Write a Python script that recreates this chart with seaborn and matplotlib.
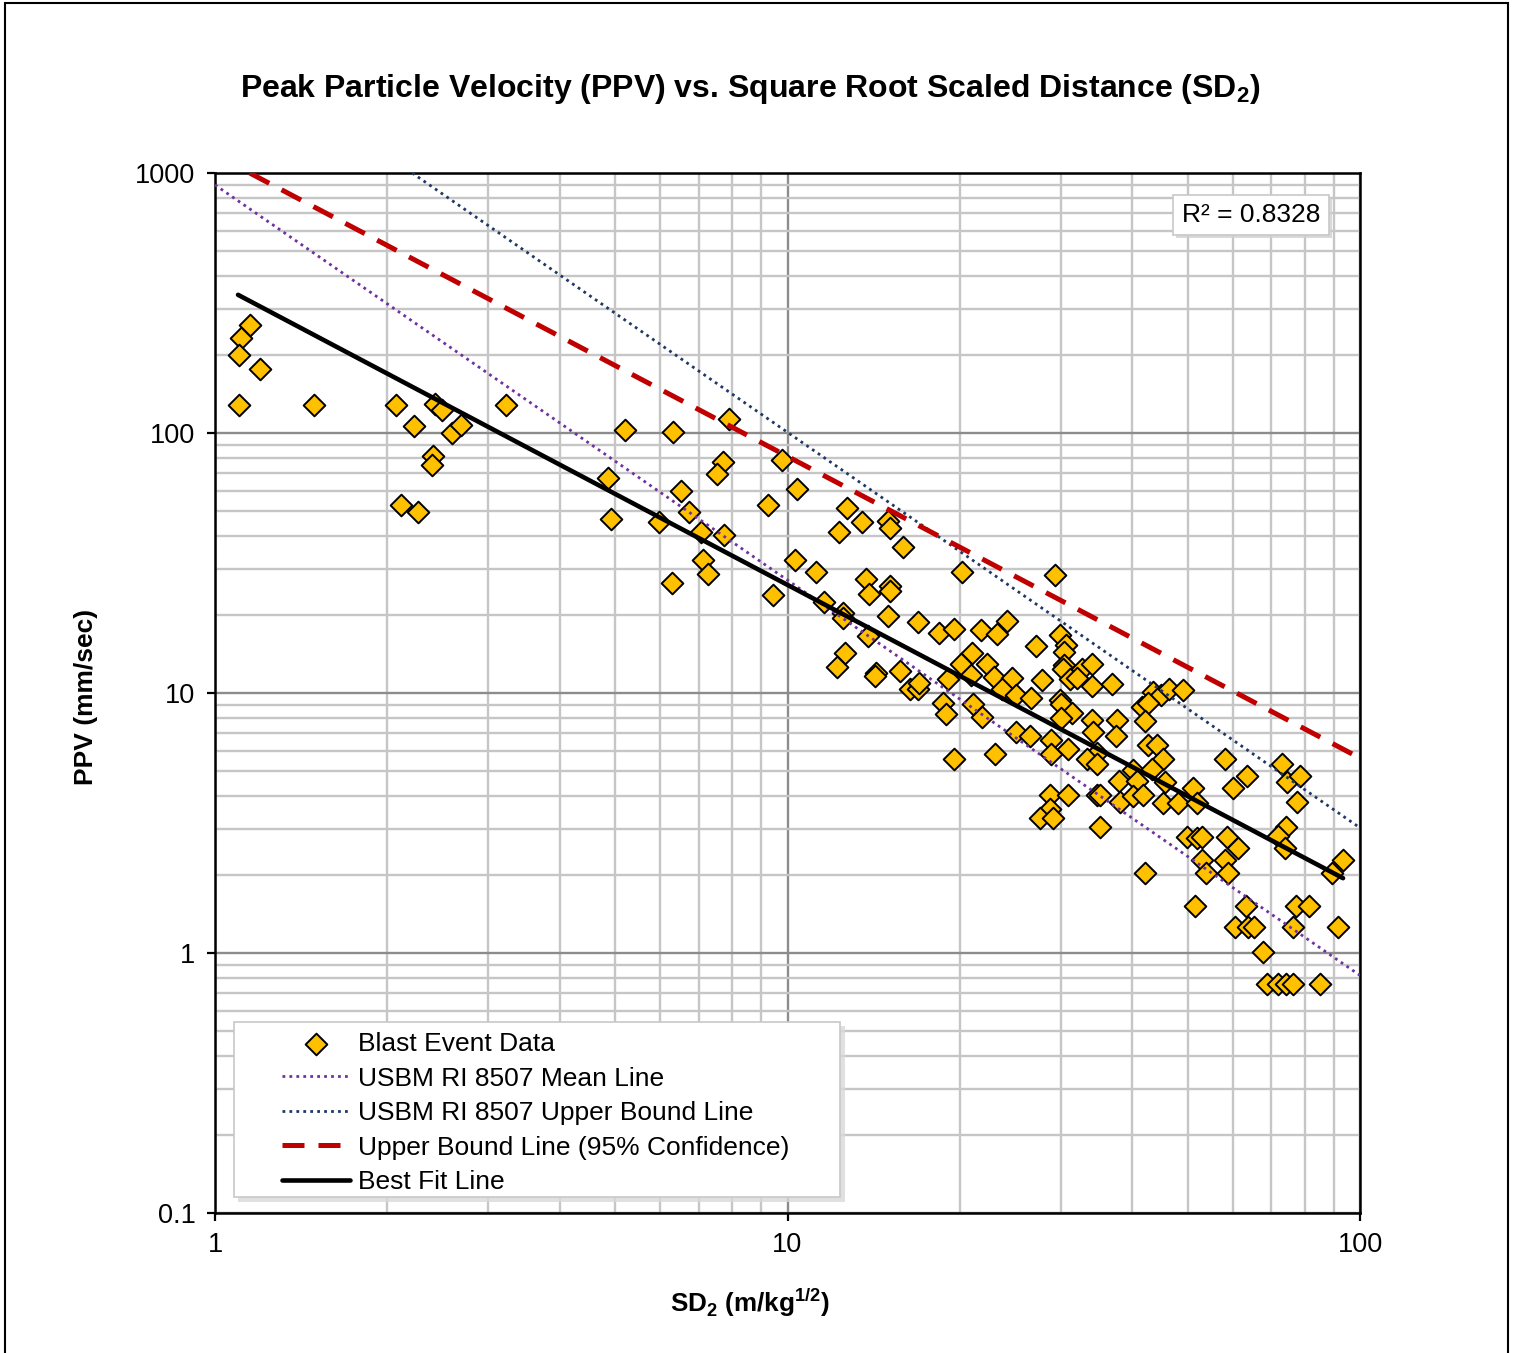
import matplotlib
matplotlib.use("Agg")
import matplotlib.pyplot as plt
import matplotlib.ticker as mticker
import matplotlib.transforms as mtransforms
from matplotlib.patches import Rectangle
import seaborn as sns
import pandas as pd

# ---------------- data ----------------
sd = [1.15, 1.11, 1.10, 1.20, 1.10, 1.49, 2.07, 2.42, 2.49, 3.22, 2.23, 2.59, 2.69, 2.40, 2.39, 2.11, 2.26,
      5.21, 6.30, 7.89, 7.73, 7.52, 9.77, 4.85, 4.92, 6.52, 6.73, 5.96, 7.05, 7.76, 9.24, 10.4, 7.13, 7.27,
      6.28, 9.45, 10.3, 11.2, 11.6, 12.3,
      12.7, 13.5, 15.0, 15.1, 15.9, 13.7, 13.9, 15.1, 15.1, 12.5, 12.5, 15.0, 13.8, 12.6, 12.2, 14.3, 14.2,
      20.2, 29.3, 16.9, 18.4, 19.5, 21.8, 23.2, 24.2, 29.9, 30.7, 27.2, 30.4, 21.0, 20.1, 22.3, 20.9, 19.1,
      22.9, 24.7, 27.8, 30.4, 30.3, 31.2, 32.7, 32.0, 34.0, 34.0, 36.9, 15.7, 16.4, 16.9, 17.0, 23.7, 25.1,
      26.6, 29.9, 30.1, 31.4, 30.1, 18.7, 18.9, 21.1, 21.9, 34.0, 37.7, 34.1, 37.5, 25.1, 26.5, 28.9, 28.9,
      30.9, 34.7, 33.3, 34.7, 19.5, 23.0, 37.9, 40.2, 40.8, 28.7, 30.9, 34.7, 35.2, 38.1, 40.1, 28.7, 27.6,
      29.1, 35.2,
      43.5, 45.0, 46.4, 49.1, 41.6, 42.7, 42.2, 42.6, 44.2, 45.2, 43.3, 45.6, 41.8, 45.2, 48.0, 51.0, 51.9,
      58.1, 63.4, 59.9, 73.0, 74.5, 78.6, 77.5, 49.9, 51.9, 53.0, 58.5, 61.1, 74.2, 72.0, 74.0, 52.9, 53.8,
      58.1, 58.9, 42.2, 89.4, 93.5, 51.4, 63.1, 77.3, 81.5, 60.5, 63.8, 65.3, 76.3, 91.7, 67.8, 68.7, 71.8,
      74.2, 76.5, 85.1]
ppv = [260, 232, 200, 176, 128, 128, 128, 129, 123, 128, 106, 100, 107, 81.5, 75, 52.7, 49.5,
       103, 101, 113, 77.4, 69.6, 78.8, 66.9, 46.6, 60, 49.5, 45.5, 41.6, 40.6, 52.7, 60.7, 32.5, 28.6,
       26.6, 23.8, 32.5, 29.3, 22.4, 41.6,
       51.6, 45.5, 46.0, 43.2, 36.5, 27.4, 24.0, 25.8, 24.7, 20.3, 19.4, 19.7, 16.5, 14.2, 12.6, 11.9, 11.6,
       29.2, 28.4, 18.8, 17.0, 17.7, 17.5, 16.9, 19.0, 16.7, 15.3, 15.2, 14.4, 14.2, 12.9, 12.9, 11.7, 11.3,
       11.5, 11.4, 11.2, 12.8, 12.4, 11.3, 12.4, 11.4, 12.9, 10.6, 10.8, 12.1, 10.4, 10.4, 10.9, 10.4, 9.82,
       9.59, 9.40, 9.07, 8.36, 8.04, 9.13, 8.28, 9.07, 8.11, 7.88, 7.88, 7.10, 6.83, 7.10, 6.83, 6.60, 5.83,
       6.07, 5.86, 5.57, 5.32, 5.56, 5.83, 4.59, 5.06, 4.60, 4.05, 4.05, 4.05, 4.05, 3.80, 4.02, 3.57, 3.30,
       3.30, 3.06,
       10.1, 9.82, 10.4, 10.3, 8.86, 9.13, 7.80, 6.31, 6.31, 5.56, 5.09, 4.56, 4.05, 3.79, 3.79, 4.32, 3.77,
       5.56, 4.81, 4.30, 5.32, 4.56, 4.81, 3.80, 2.80, 2.78, 2.79, 2.80, 2.53, 3.06, 2.83, 2.53, 2.28, 2.03,
       2.28, 2.03, 2.03, 2.03, 2.28, 1.52, 1.52, 1.52, 1.52, 1.26, 1.26, 1.26, 1.26, 1.26, 1.01, 0.76, 0.76,
       0.76, 0.76, 0.76]

# line endpoints (straight lines on log-log axes)
mean_sd = [1.0, 100.0]
mean_ppv = [900.0, 0.82]
usbm_ub_sd = [2.21, 100.0]
usbm_ub_ppv = [1000.0, 3.03]
ub95_sd = [1.15, 100.0]
ub95_ppv = [1000.0, 5.62]
fit_sd = [1.097, 93.4]
fit_ppv = [340.0, 1.94]

r2_text = "R² = 0.8328"
x_ticks = [1, 10, 100]
y_ticks = [0.1, 1, 10, 100, 1000]

df = pd.DataFrame({"SD": sd, "PPV": ppv})

# ---------------- style ----------------
sns.set_style("white")
plt.rcParams["font.family"] = ["Liberation Sans", "DejaVu Sans"]
plt.rcParams["mathtext.fontset"] = "custom"
plt.rcParams["mathtext.rm"] = "Liberation Sans"
plt.rcParams["mathtext.bf"] = "Liberation Sans:bold"
plt.rcParams["text.color"] = "black"
plt.rcParams["xtick.color"] = "black"
plt.rcParams["ytick.color"] = "black"

W, H = 1517, 1353
fig = plt.figure(figsize=(W / 100, H / 100), dpi=100)
ax = fig.add_axes([215 / W, 1 - 1213 / H, (1360 - 215) / W, (1213 - 173) / H])

ax.set_xscale("log")
ax.set_yscale("log")
ax.set_xlim(1, 100)
ax.set_ylim(0.1, 1000)

# grid
ax.grid(which="minor", color="#c6c6c6", linewidth=1.7, zorder=0)
ax.grid(which="major", color="#8c8c8c", linewidth=1.7, zorder=0)
ax.set_axisbelow(True)
ax.xaxis.set_minor_locator(mticker.LogLocator(base=10, subs=range(2, 10)))
ax.yaxis.set_minor_locator(mticker.LogLocator(base=10, subs=range(2, 10)))
ax.xaxis.set_minor_formatter(mticker.NullFormatter())
ax.yaxis.set_minor_formatter(mticker.NullFormatter())
ax.set_xticks(x_ticks)
ax.set_yticks(y_ticks)
ax.xaxis.set_major_formatter(mticker.FuncFormatter(lambda v, _: f"{v:g}"))
ax.yaxis.set_major_formatter(mticker.FuncFormatter(lambda v, _: f"{v:g}"))
ax.tick_params(which="major", direction="out", length=6, width=1.6, color="black",
               labelsize=19.5, pad=8, bottom=True, left=True, labelcolor="black")
ax.tick_params(which="minor", length=0)
for s in ax.spines.values():
    s.set_color("black")
    s.set_linewidth(1.8)

# data
sns.scatterplot(data=df, x="SD", y="PPV", marker="D", s=122, color="#FFC000",
                edgecolor="black", linewidth=1.4, ax=ax, zorder=3,
                label="Blast Event Data")

ax.plot(mean_sd, mean_ppv, color="#7030A0", linewidth=2.0, linestyle=(0, (1, 1.5)),
        zorder=4, label="USBM RI 8507 Mean Line")
ax.plot(usbm_ub_sd, usbm_ub_ppv, color="#1F3864", linewidth=2.0, linestyle=(0, (1, 1.5)),
        zorder=4, label="USBM RI 8507 Upper Bound Line")
ax.plot(ub95_sd, ub95_ppv, color="#C00000", linewidth=3.6, linestyle=(0, (4.4, 2.8)),
        zorder=4, label="Upper Bound Line (95% Confidence)")
ax.plot(fit_sd, fit_ppv, color="black", linewidth=3.3, zorder=5, label="Best Fit Line")

ax.set_xlabel("")
ax.set_ylabel("")

# legend box (frame drawn separately to reproduce the wide left padding)
def fig_rect(x0, y0, x1, y1, **kw):
    return Rectangle((x0 / W, 1 - y1 / H), (x1 - x0) / W, (y1 - y0) / H,
                     transform=fig.transFigure, clip_on=False, **kw)

ax.add_patch(fig_rect(238, 1026, 845, 1202, facecolor="#d9d9d9", edgecolor="none",
                      alpha=0.8, zorder=8))
ax.add_patch(fig_rect(234, 1022, 840, 1197, facecolor="white", edgecolor="#c8c8c8",
                      linewidth=1.2, zorder=9))

leg = ax.legend(loc="upper left", bbox_to_anchor=(282 / W, 1 - 1032 / H),
                bbox_transform=fig.transFigure, fontsize=19,
                frameon=False, handlelength=2.58, handletextpad=0.3, labelspacing=0.40,
                borderpad=0, borderaxespad=0)
leg.set_zorder(10)

# R² box with soft shadow
r2_x, r2_y = (1251 - 215) / 1145, 1 - (215 - 173) / 1040
shadow_tr = mtransforms.offset_copy(ax.transAxes, fig=fig, x=3, y=-3, units="dots")
ax.text(r2_x, r2_y, r2_text, transform=shadow_tr, ha="center", va="center", fontsize=19,
        color="none",
        bbox=dict(boxstyle="square,pad=0.32", facecolor="#d0d0d0", edgecolor="none", alpha=0.8),
        zorder=9)
ax.text(r2_x, r2_y, r2_text, transform=ax.transAxes, ha="center", va="center", fontsize=19,
        bbox=dict(boxstyle="square,pad=0.32", facecolor="white", edgecolor="#c8c8c8", linewidth=1.2),
        zorder=10)

fig.text(750 / W, 1 - 89 / H,
         r"Peak Particle Velocity (PPV) vs. Square Root Scaled Distance (SD$_\mathbf{2}$)",
         ha="center", va="center", fontsize=23, fontweight="bold")
fig.text(750 / W, 1 - 1303 / H, r"SD$_\mathbf{2}$ (m/kg$^\mathbf{1/2}$)",
         ha="center", va="center", fontsize=18.8, fontweight="bold")
fig.text(86 / W, 1 - 697 / H, "PPV (mm/sec)", ha="center", va="center",
         rotation=90, fontsize=19, fontweight="bold")

# figure frame
fig.add_artist(Rectangle((5 / W, -0.02), (1508 - 5) / W, 1.02 - 3 / H,
                         transform=fig.transFigure, fill=False, edgecolor="black",
                         linewidth=1.5))

fig.savefig("out.png", dpi=100)
